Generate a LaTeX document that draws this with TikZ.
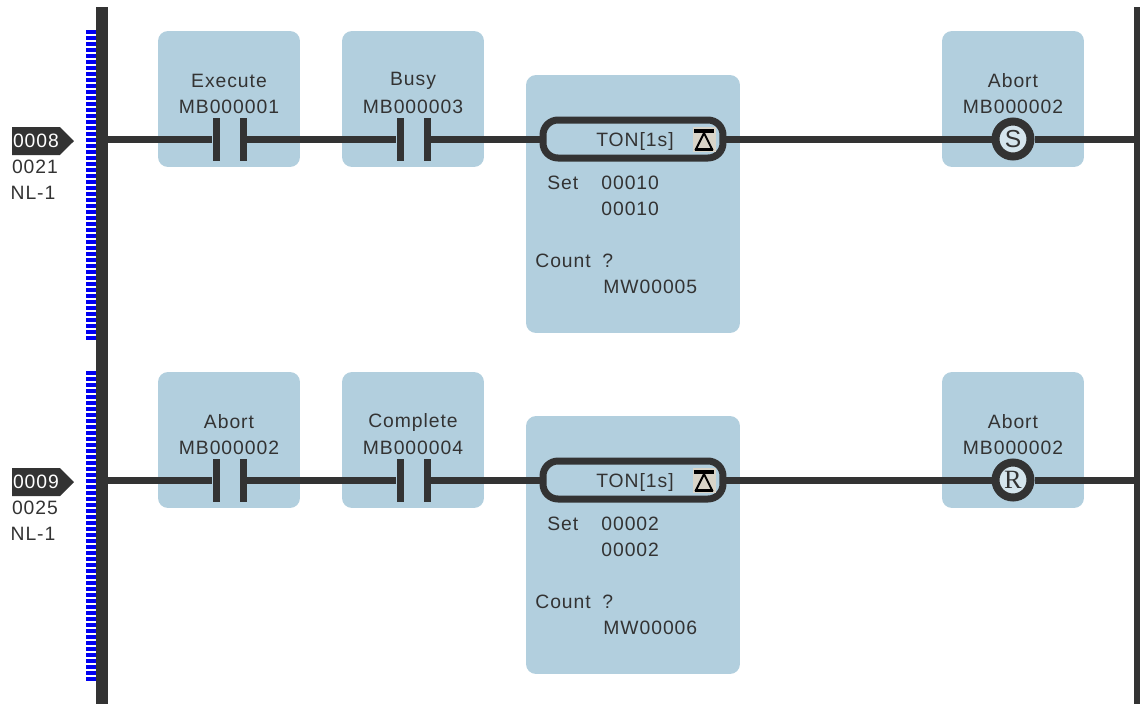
\documentclass[tikz,border=0pt]{standalone}
\usepackage{fontspec}
\usepackage{xcolor}
\setmainfont[LetterSpace=5]{Liberation Sans}
\newfontfamily\coilfont{Liberation Serif}
\usetikzlibrary{shapes.symbols}

\definecolor{panelblue}{HTML}{B2CFDE}
\definecolor{rungdark}{HTML}{333333}
\definecolor{combblue}{HTML}{0000F0}
\definecolor{iconback}{HTML}{D8D4C8}

\tikzset{
    lbl/.style={inner sep=0pt, text=rungdark, font=\fontsize{11}{13}\selectfont},
    panel/.style={fill=panelblue, rounded corners=0.2cm, minimum width=2.84cm, minimum height=2.72cm, inner sep=0pt},
    tonpanel/.style={fill=panelblue, rounded corners=0.2cm, minimum width=4.28cm, minimum height=5.16cm, inner sep=0pt},
    contactbar/.style={fill=rungdark, minimum width=0.14cm, minimum height=0.86cm, inner sep=0pt},
    rung/.style={draw=rungdark, line width=0.14cm},
    bus/.style={draw=rungdark, line width=0.24cm},
    comb/.style={draw=combblue, line width=0.2cm, dash pattern=on 0.08cm off 0.04cm},
    tonbox/.style={draw=rungdark, line width=0.14cm, rounded corners=0.3cm, minimum width=3.6cm, minimum height=0.76cm, inner sep=0pt},
    coil/.style={circle, draw=rungdark, fill=panelblue!55!white, text=rungdark, line width=0.16cm, minimum size=0.7cm, inner sep=0pt},
    tag/.style={signal, signal to=east, fill=rungdark, text=white, inner xsep=0pt, inner ysep=0pt, minimum height=0.56cm, minimum width=1.24cm, font=\fontsize{11}{13}\selectfont},
    timericon/.pic={
        \fill[iconback] (-11.5,-13) rectangle (11.5,12);
        \fill[black] (-10,-11) rectangle (10,-7);
        \draw[black, line width=0.04cm] (0,-7) -- (-8,9) -- (8,9) -- cycle;
        \draw[black, line width=0.06cm] (-9,9) -- (9,9);
    },
}

\begin{document}
\begin{tikzpicture}[x=0.02cm, y=-0.02cm]
    \useasboundingbox (0,0) rectangle (1140,704);

    % power rails
    \draw[comb] (91,30) -- (91,341);
    \draw[comb] (91,371) -- (91,682);
    \draw[bus] (102,7) -- (102,704);
    \draw[draw=rungdark, line width=0.12cm] (1137,7) -- (1137,704);
    \coordinate (rail1) at (102,139);
    \coordinate (rail2) at (102,480);
    \coordinate (end1) at (1137,139);
    \coordinate (end2) at (1137,480);

    % rung 0008
    \node[tag] (tag1) at (36,141) {0008};
    \node[lbl] (step1) at (35,167) {0021};
    \node[lbl] (net1) at (33,193) {NL-1};

    \node[panel] (execpanel) at (229,99) {};
    \node[panel] (busypanel) at (413,99) {};
    \node[tonpanel] (tonpanel1) at (633,204) {};
    \node[panel] (setpanel) at (1013,99) {};

    \node[lbl] (exectext) at (229,81) {Execute};
    \node[lbl] (execaddr) at (229,107) {MB000001};
    \node[lbl] (busytext) at (413,81) {Busy};
    \node[lbl] (busyaddr) at (413,107) {MB000003};
    \node[lbl] (settext) at (1013,81) {Abort};
    \node[lbl] (setaddr) at (1013,107) {MB000002};

    \node[contactbar] (exec-l) at (216,139) {};
    \node[contactbar] (exec-r) at (243,139) {};
    \node[contactbar] (busy-l) at (400,139) {};
    \node[contactbar] (busy-r) at (427,139) {};
    \node[tonbox] (ton1) at (633,139) {};
    \node[lbl] (tontext1) at (635,141) {TON[1s]};
    \pic at (704,140) {timericon};
    \node[lbl, anchor=west] (setlbl1) at (547,183) {Set};
    \node[lbl, anchor=west] (setval1) at (601,183) {00010};
    \node[lbl, anchor=west] (curval1) at (601,209) {00010};
    \node[lbl, anchor=west] (countlbl1) at (535,261) {Count};
    \node[lbl, anchor=west] (query1) at (602,261) {?};
    \node[lbl, anchor=west] (word1) at (603,287) {MW00005};
    \node[coil] (coil1) at (1013,139) {\fontsize{14}{16}\selectfont S};

    \draw[rung] (rail1) -- (exec-l);
    \draw[rung] (exec-r) -- (busy-l);
    \draw[rung] (busy-r) -- (ton1);
    \draw[rung] (ton1) -- (coil1);
    \draw[rung] (coil1) -- (end1);

    % rung 0009
    \node[tag] (tag2) at (36,482) {0009};
    \node[lbl] (step2) at (35,508) {0025};
    \node[lbl] (net2) at (33,534) {NL-1};

    \node[panel] (abortpanel) at (229,440) {};
    \node[panel] (donepanel) at (413,440) {};
    \node[tonpanel] (tonpanel2) at (633,545) {};
    \node[panel] (resetpanel) at (1013,440) {};

    \node[lbl] (aborttext) at (229,422) {Abort};
    \node[lbl] (abortaddr) at (229,448) {MB000002};
    \node[lbl] (donetext) at (413,422) {Complete};
    \node[lbl] (doneaddr) at (413,448) {MB000004};
    \node[lbl] (resettext) at (1013,422) {Abort};
    \node[lbl] (resetaddr) at (1013,448) {MB000002};

    \node[contactbar] (abort-l) at (216,480) {};
    \node[contactbar] (abort-r) at (243,480) {};
    \node[contactbar] (done-l) at (400,480) {};
    \node[contactbar] (done-r) at (427,480) {};
    \node[tonbox] (ton2) at (633,480) {};
    \node[lbl] (tontext2) at (635,482) {TON[1s]};
    \pic at (704,481) {timericon};
    \node[lbl, anchor=west] (setlbl2) at (547,524) {Set};
    \node[lbl, anchor=west] (setval2) at (601,524) {00002};
    \node[lbl, anchor=west] (curval2) at (601,550) {00002};
    \node[lbl, anchor=west] (countlbl2) at (535,602) {Count};
    \node[lbl, anchor=west] (query2) at (602,602) {?};
    \node[lbl, anchor=west] (word2) at (603,628) {MW00006};
    \node[coil] (coil2) at (1013,480) {\fontsize{15}{17}\selectfont\coilfont R};

    \draw[rung] (rail2) -- (abort-l);
    \draw[rung] (abort-r) -- (done-l);
    \draw[rung] (done-r) -- (ton2);
    \draw[rung] (ton2) -- (coil2);
    \draw[rung] (coil2) -- (end2);
\end{tikzpicture}
\end{document}
